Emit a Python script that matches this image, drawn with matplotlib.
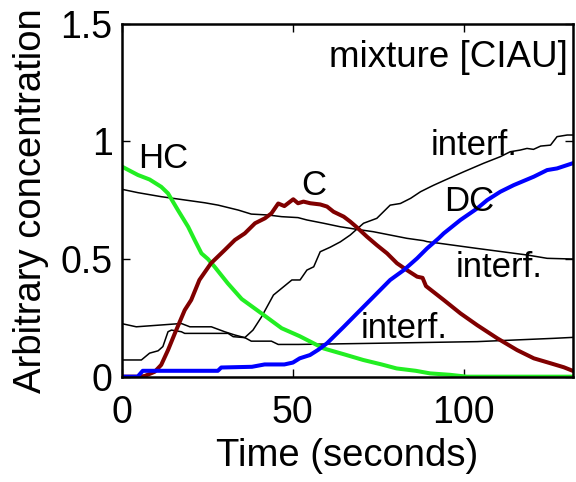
import matplotlib
matplotlib.use('Agg')
import matplotlib.pyplot as plt

# ---------------------------------------------------------------
# data (time in seconds, arbitrary conc.)
# ---------------------------------------------------------------

hc_t = [0, 4.6, 8, 11.4, 13.4, 16.3, 19.3, 21.2, 23.2, 25.1, 27, 30.9, 35, 40.8, 46.7,
        52, 59, 65, 70.6, 76, 80.4, 86, 90.2, 96, 101, 132]
hc_c = [0.892, 0.857, 0.838, 0.807, 0.779, 0.708, 0.637, 0.581, 0.524, 0.5, 0.468, 0.397,
        0.33, 0.269, 0.206, 0.172, 0.12, 0.095, 0.071, 0.052, 0.035, 0.025, 0.014, 0.008, 0.0, 0.0]

c_t = [0, 5, 6.6, 9.5, 11.4, 13.4, 15.4, 18.3, 20.2, 22.6, 26, 30, 33, 35.9, 38.9, 41.8,
       43.7, 45.7, 47.5, 50.1, 51.5, 53.1, 55.1, 58, 60, 61.9, 64.9, 66.8, 68.8, 71.7, 74.6,
       77.6, 80.5, 83.4, 86.4, 88, 89, 94.2, 99.1, 104, 109.9, 115.7, 120.6, 125.5, 129.4, 132]
c_c = [0, 0, 0.003, 0.021, 0.05, 0.113, 0.184, 0.283, 0.326, 0.411, 0.482, 0.538, 0.581,
       0.609, 0.652, 0.673, 0.694, 0.736, 0.725, 0.754, 0.737, 0.744, 0.737, 0.732, 0.723,
       0.701, 0.68, 0.659, 0.634, 0.595, 0.559, 0.524, 0.482, 0.453, 0.425, 0.42, 0.385,
       0.326, 0.269, 0.219, 0.163, 0.113, 0.078, 0.057, 0.04, 0.025]

dc_t = [0, 4.5, 6, 28, 29, 38, 41.7, 47.5, 50, 52, 55, 57.5, 60, 64.9, 70.7, 74.6, 78.5,
        82.5, 86.4, 89.3, 92.7, 94.2, 99.1, 104, 106.9, 110.8, 114.7, 120.6, 124.5, 127.4, 132]
dc_c = [0, 0, 0.025, 0.025, 0.039, 0.042, 0.052, 0.052, 0.06, 0.078, 0.092, 0.115, 0.142,
        0.212, 0.297, 0.354, 0.411, 0.453, 0.503, 0.545, 0.588, 0.609, 0.666, 0.715, 0.75,
        0.786, 0.814, 0.85, 0.878, 0.885, 0.907]

# interferents (thin black)
if1_t = [0, 4.6, 11.4, 18.3, 24.2, 28.1, 34, 37.8, 42.8, 46.7, 51.5, 54.1, 59, 63.9, 68.8,
         73.6, 78.5, 83.4, 88.3, 89.3, 104, 118.7, 124.5, 132]
if1_c = [0.796, 0.782, 0.765, 0.751, 0.739, 0.729, 0.708, 0.691, 0.687, 0.68, 0.676, 0.666,
         0.652, 0.637, 0.626, 0.616, 0.602, 0.588, 0.578, 0.574, 0.545, 0.517, 0.503, 0.5]

if2_t = [0, 4.1, 17.3, 19.8, 26.1, 30, 33, 35.9, 37.8, 43.7, 45.7, 51.6, 74.6, 104, 126.5, 132]
if2_c = [0.225, 0.212, 0.226, 0.212, 0.212, 0.191, 0.177, 0.166, 0.151, 0.151, 0.137, 0.137,
         0.142, 0.149, 0.163, 0.167]

if3_t = [0, 5.6, 8, 10.5, 11.9, 13.4, 14.4, 17.3, 18.3, 31, 32.5, 35.9, 38.3, 40.8, 43.7,
         44.3, 49.7, 52.1, 54.1, 56.1, 58, 60.9, 63.9, 66.8, 70.7, 74.6, 78.5, 81.5, 84.5,
         87.4, 90.3, 91.3, 94.2, 100.1, 105.9, 110.8, 113.7, 116.6, 118.6, 120.5, 122.6,
         125.5, 127.4, 130.4, 132]
if3_c = [0.071, 0.071, 0.1, 0.11, 0.128, 0.191, 0.198, 0.191, 0.184, 0.184, 0.17, 0.166,
         0.198, 0.254, 0.331, 0.347, 0.411, 0.411, 0.453, 0.467, 0.531, 0.55, 0.573, 0.602,
         0.652, 0.673, 0.729, 0.736, 0.758, 0.786, 0.807, 0.814, 0.833, 0.871, 0.907, 0.935,
         0.956, 0.963, 0.97, 0.966, 0.98, 0.984, 1.02, 1.027, 1.027]

X_TICKS = [0, 50, 100]
Y_TICKS = [0, 0.5, 1, 1.5]
Y_TICK_LABELS = ['0', '0.5', '1', '1.5']

# ---------------------------------------------------------------
# figure
# ---------------------------------------------------------------

plt.rcParams['font.family'] = ['Liberation Sans', 'DejaVu Sans']

fig = plt.figure(figsize=(5.76, 4.82), dpi=100)
ax = fig.add_axes([0.2123, 0.2185, 0.782, 0.7323])

for t, c in [(if1_t, if1_c), (if2_t, if2_c), (if3_t, if3_c)]:
    ax.plot(t, c, color='k', lw=1.1)

ax.plot(hc_t, hc_c, color='#22ee22', lw=2.9)
ax.plot(c_t, c_c, color='#800000', lw=2.9)
ax.plot(dc_t, dc_c, color='#0000ff', lw=2.9)

txt = 25
ax.text(4.6, 0.887, 'HC', fontsize=txt)
ax.text(52.3, 0.772, 'C', fontsize=txt)
ax.text(94.2, 0.704, 'DC', fontsize=txt)
ax.text(90.3, 0.94, 'interf.', fontsize=txt)
ax.text(97.6, 0.425, 'interf.', fontsize=txt)
ax.text(69.7, 0.163, 'interf.', fontsize=txt)
ax.text(130.6, 1.317, 'mixture [CIAU]', fontsize=26.5, ha='right')

ax.set_xlim(0, 132)
ax.set_ylim(0, 1.5)
ax.set_xticks(X_TICKS)
ax.set_yticks(Y_TICKS)
ax.set_yticklabels(Y_TICK_LABELS)
ax.tick_params(direction='in', top=True, right=True, length=6, width=1, labelsize=27)
ax.tick_params(axis='x', pad=13)
ax.tick_params(axis='y', pad=7)
for s in ax.spines.values():
    s.set_linewidth(1.8)

ax.set_xlabel('Time (seconds)', fontsize=27.5, labelpad=5)
ax.set_ylabel('Arbitrary concentration', fontsize=27.5, labelpad=8)

fig.savefig('out.png', dpi=100)
